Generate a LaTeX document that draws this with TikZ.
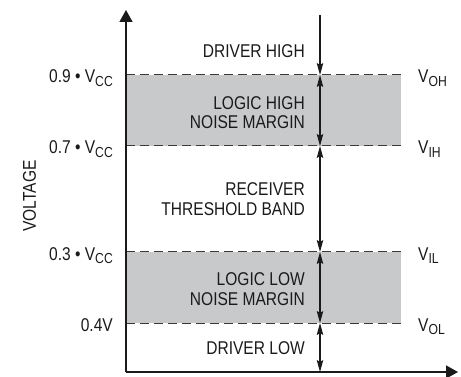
\documentclass[tikz,border=0pt]{standalone}
\usepackage{fontspec}
\setmainfont[FakeStretch=0.84]{Liberation Sans}
\usepackage{tikz}
\usetikzlibrary{positioning}
\usetikzlibrary{arrows.meta}
\definecolor{bandgray}{HTML}{C8C9CB}
\definecolor{inkgray}{HTML}{1A1A1A}
\definecolor{dashgray}{HTML}{3A3A3A}
\newcommand{\vsub}[1]{V\raisebox{-3.5pt}{\fontsize{14.5}{14.5}\selectfont #1}}

\begin{document}
\begin{tikzpicture}[x=1pt, y=-1pt, font=\fontsize{18.5}{19.5}\selectfont, text=inkgray]
    % Styles:
    \tikzset{axis/.style={draw=inkgray, line width=1.5pt, -{Triangle[length=12pt, width=13pt]}}}
    \tikzset{level/.style={draw=dashgray, line width=1pt, dash pattern=on 9pt off 5pt}}
    \tikzset{band/.style={fill=bandgray}}
    \tikzset{down/.style={draw=inkgray, line width=1.1pt, >={Stealth[length=12pt, width=6.5pt, inset=2pt]}, ->}}
    \tikzset{span/.style={down, <->}}
    \tikzset{zone/.style={anchor=east, align=right, inner sep=0pt}}
    \tikzset{vlabel/.style={anchor=base east, inner sep=0pt}}
    \tikzset{rlabel/.style={anchor=base west, inner sep=0pt}}

    \useasboundingbox (0,0) rectangle (461,377);

    % Levels:
    \foreach \name/\y in {oh/75, ih/146, il/252, ol/323} {
        \coordinate (\name-l) at (126,\y);
        \coordinate (\name-m) at (320,\y);
        \coordinate (\name-r) at (405,\y);
    }
    \coordinate (origin) at (126,372);
    \coordinate (ytip)   at (126,10);
    \coordinate (xtip)   at (458,372);
    \coordinate (start)  at (320,15);
    \coordinate (floor)  at (320,372);

    % Noise margin bands:
    \fill[band] (oh-l) rectangle (401,146);
    \fill[band] (il-l) rectangle (401,323);
    \foreach \name in {oh, ih, il, ol}
        \draw[level] (\name-l) -- (\name-r);

    % Axes:
    \draw[axis] (origin) -- (ytip);
    \draw[axis] (origin) -- (xtip);

    % Arrows:
    \draw[down] (start) -- (oh-m);
    \draw[span] (oh-m) -- (ih-m);
    \draw[span] (ih-m) -- (il-m);
    \draw[span] (il-m) -- (ol-m);
    \draw[span] (ol-m) -- (floor);

    % Zone texts:
    \node[zone] (drvhigh) at (305,51.5)  {DRIVER HIGH};
    \node[zone] (nmhigh)  at (305,112.5) {LOGIC HIGH\\NOISE MARGIN};
    \node[zone] (thresh)  at (305,199)   {RECEIVER\\THRESHOLD BAND};
    \node[zone] (nmlow)   at (305,289)   {LOGIC LOW\\NOISE MARGIN};
    \node[zone] (drvlow)  at (305,348.3) {DRIVER LOW};

    % Left labels:
    \node[vlabel] (loh) at (113,83)  {0.9 \textbullet\ \vsub{CC}};
    \node[vlabel] (lih) at (113,154) {0.7 \textbullet\ \vsub{CC}};
    \node[vlabel] (lil) at (113,260) {0.3 \textbullet\ \vsub{CC}};
    \node[vlabel] (lol) at (113,331) {0.4V};

    % Right labels:
    \node[rlabel] (roh) at (418,83)  {\vsub{OH}};
    \node[rlabel] (rih) at (418,154) {\vsub{IH}};
    \node[rlabel] (ril) at (418,260) {\vsub{IL}};
    \node[rlabel] (rol) at (418,331) {\vsub{OL}};

    % Axis title:
    \node[rotate=90, inner sep=0pt] (ytitle) at (29.5,196) {VOLTAGE};
\end{tikzpicture}
\end{document}
